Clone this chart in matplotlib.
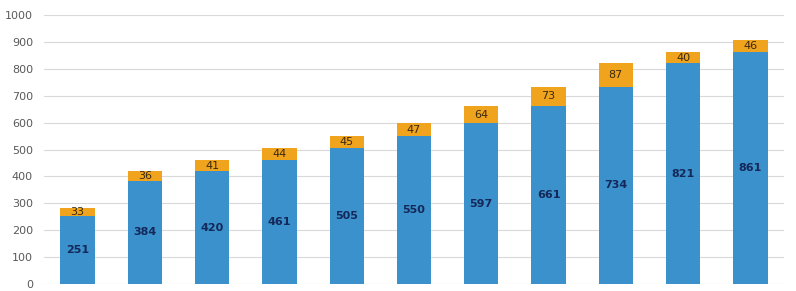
import numpy as np
import matplotlib.pyplot as plt

# data
categories = list(range(11))
base = [251, 384, 420, 461, 505, 550, 597, 661, 734, 821, 861]
extra = [33, 36, 41, 44, 45, 47, 64, 73, 87, 40, 46]

BLUE = "#3a91cb"
ORANGE = "#f0a31c"

fig = plt.figure(figsize=(7.96, 2.91), dpi=100)
ax = fig.add_axes([44 / 796, 7 / 291, 740 / 796, 269 / 291])

x = np.arange(len(categories))
ax.bar(x, base, width=0.51, color=BLUE, zorder=2)
ax.bar(x, extra, width=0.51, bottom=base, color=ORANGE, zorder=2)

for xi, v, e in zip(x, base, extra):
    ax.text(xi, v / 2, str(v), ha="center", va="center", fontsize=8,
            color="#14285a", fontweight="semibold", zorder=3)
    ax.text(xi, v + e / 2, str(e), ha="center", va="center", fontsize=8,
            color="#3a2a10", zorder=3)

ax.set_xlim(-0.5, len(categories) - 0.5)
ax.set_ylim(0, 1000)
ax.set_yticks(range(0, 1001, 100))
ax.yaxis.grid(True, color="#d9d9d9", linewidth=0.8, zorder=0)
ax.set_xticks([])
for s in ax.spines.values():
    s.set_visible(False)
ax.tick_params(axis="y", length=0, labelsize=8, labelcolor="#595959", pad=8)

fig.savefig("out.png", dpi=100)
